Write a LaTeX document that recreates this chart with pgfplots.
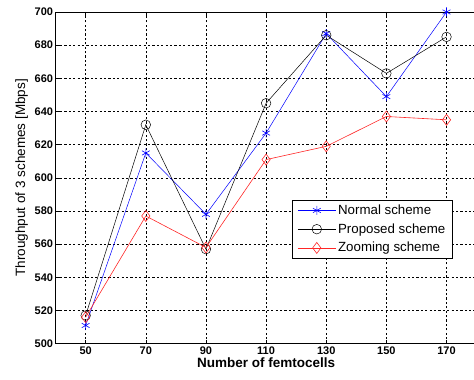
\documentclass[border=0pt]{standalone}
\usepackage{pgfplots}
\pgfplotsset{compat=1.18}
\usepackage{fontspec}
\setmainfont{Liberation Sans}
\begin{document}
\begin{tikzpicture}[x=1pt,y=1pt]
\begin{axis}[
  name=ax,
  scale only axis,
  width=421pt, height=331.7pt,
  xmin=40, xmax=180, ymin=500, ymax=700,
  xtick={50,70,...,170},
  ytick={500,520,...,700},
  grid=major,
  major grid style={black, line width=0.5pt, dash pattern=on 2.2pt off 2.2pt},
  axis line style={black, line width=0.6pt},
  tick style={black, line width=0.5pt},
  tick align=inside,
  major tick length=4pt,
  /pgf/number format/assume math mode=true,
  ticklabel style={font=\fontsize{11}{12}\selectfont\bfseries},
  yticklabel style={xshift=1pt},
  xlabel={\bfseries Number of femtocells},
  ylabel={Throughput of 3 schemes [Mbps]},
  xlabel style={font=\fontsize{13.5}{15}\selectfont, yshift=4pt},
  ylabel style={font=\fontsize{13.5}{15}\selectfont, yshift=0pt},
  legend style={at={(rel axis cs:0.562,0.433)}, anchor=north west,
    draw=black, line width=0.6pt, font=\fontsize{13.3}{14}\selectfont,
    row sep=3.6pt, inner xsep=5pt, inner ysep=2.5pt},
  legend cell align=left,
  legend image code/.code={
    \draw[#1] (0pt,0pt) -- (38pt,0pt);
    \draw[#1, only marks] plot coordinates {(19pt,0pt)};
  },
]
\addplot[blue, line width=0.5pt, mark=asterisk, mark size=4.5pt, mark options={line width=0.6pt}]
  coordinates {(50,511)(70,615)(90,578)(110,627)(130,687)(150,649)(170,700)};
\addlegendentry{Normal scheme}
\addplot[black, line width=0.5pt, mark=o, mark size=4.8pt, mark options={line width=0.5pt}]
  coordinates {(50,517)(70,632)(90,557)(110,645)(130,686)(150,663)(170,685)};
\addlegendentry{Proposed scheme}
\addplot[red!85!white, line width=0.6pt, mark=diamond, mark size=5.5pt, mark options={line width=0.6pt}]
  coordinates {(50,516)(70,577)(90,558)(110,611)(130,619)(150,637)(170,635)};
\addlegendentry{Zooming scheme}
\end{axis}
\pgfresetboundingbox
\useasboundingbox ([shift={(-55.6pt,-36.3pt)}]ax.south west) rectangle ++(474pt,380pt);
\end{tikzpicture}
\end{document}
